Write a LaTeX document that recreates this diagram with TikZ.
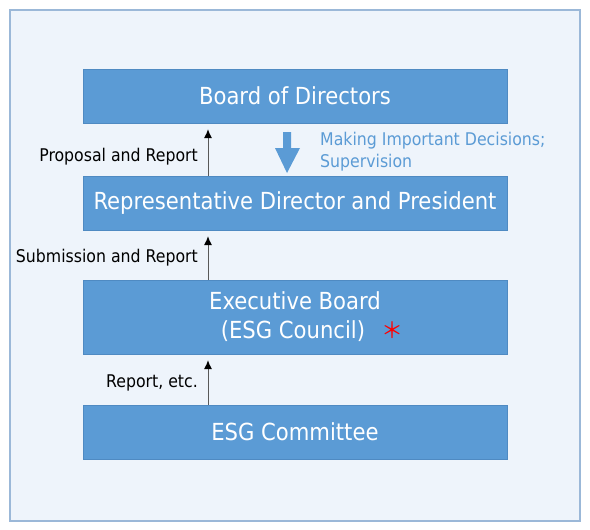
\documentclass[tikz,border=0pt]{standalone}
\usepackage{fontspec}
\setmainfont{DejaVu Sans Condensed}
\newfontfamily\cjk{Noto Sans CJK JP}
\usepackage{tikz}
\usetikzlibrary{arrows,arrows.meta}
\definecolor{boxblue}{HTML}{5B9BD5}
\definecolor{boxedge}{HTML}{4F8AC2}
\definecolor{paneblue}{HTML}{EEF4FB}
\definecolor{paneedge}{HTML}{9BB8D8}
\begin{document}
\begin{tikzpicture}[x=1pt,y=-1pt,
  organ/.style={rectangle,draw=boxedge,fill=boxblue,text=white,
    minimum width=424pt,minimum height=54pt,inner sep=0pt,
    font=\fontsize{23.5}{29}\selectfont,align=center},
  note/.style={inner sep=0pt,font=\fontsize{17.5}{22}\selectfont},
  report/.style={draw=black!65,line width=0.9pt,
    -{Latex[black,length=9pt,width=8pt]},shorten >=6pt}]
  \useasboundingbox (0,0) rectangle (590,530);
  \draw [draw=paneedge,fill=paneblue,line width=1.2pt] (10,10) rectangle (580,521);

  \node (bod) [organ] at (295,96) {Board of Directors};
  \node (rep) [organ] at (295,203) {Representative Director and President};
  \node (exe) [organ,minimum height=74pt] at (295,317)
    {Executive Board\\\hspace*{34.5pt}(ESG Council)\hspace{16.5pt}%
     \textcolor{red}{\cjk\fontsize{22}{22}\selectfont ＊}};
  \node (esg) [organ] at (295,432) {ESG Committee};

  \node (l1) [note,anchor=east] at (198,157) {Proposal and Report};
  \node (l2) [note,anchor=east] at (198,258) {Submission and Report};
  \node (l3) [note,anchor=east] at (198,383) {Report, etc.};
  \node (dec) [note,text=boxblue,anchor=west,align=left] at (320,152)
    {Making Important Decisions;\\Supervision};

  \draw [report] ([xshift=-87pt]rep.north) -- ([xshift=-87pt]bod.south);
  \draw [report] ([xshift=-87pt]exe.north) -- ([xshift=-87pt]rep.south);
  \draw [report] ([xshift=-87pt]esg.north) -- ([xshift=-87pt]exe.south);

  \fill [boxblue] (283,132) -- (291,132) -- (291,148) -- (300,148)
    -- (287,173) -- (275,148) -- (283,148) -- cycle;
\end{tikzpicture}
\end{document}
